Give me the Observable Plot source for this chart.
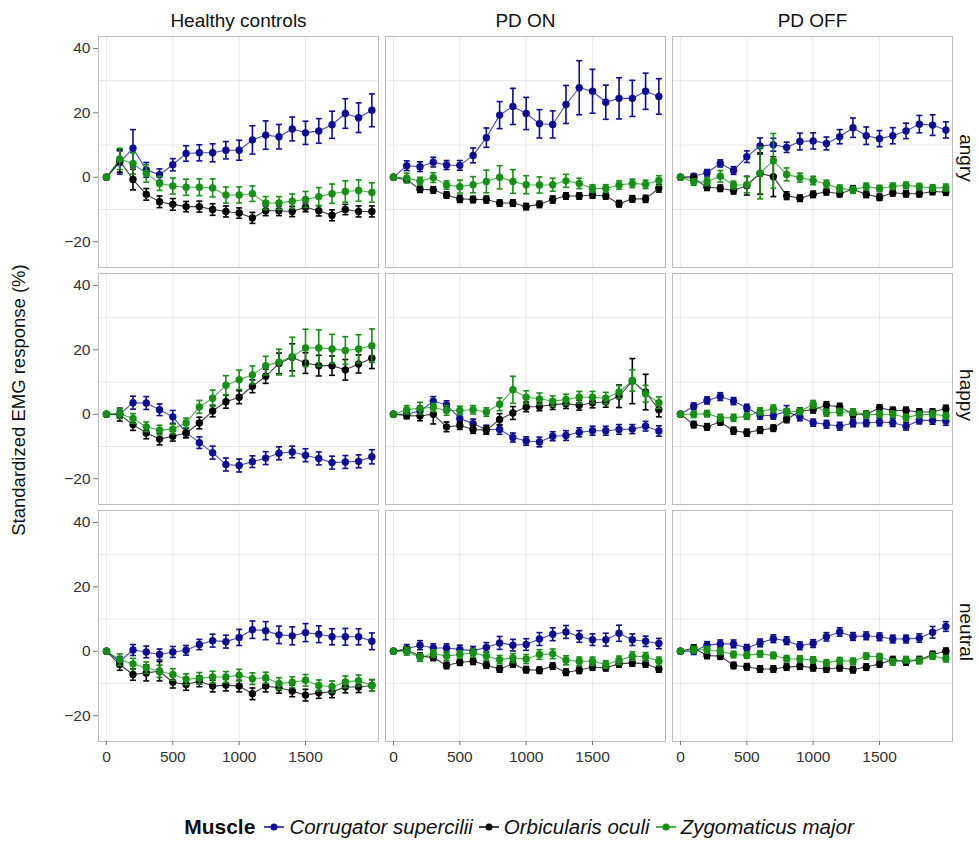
<!DOCTYPE html>
<html><head><meta charset="utf-8">
<script src="https://cdn.jsdelivr.net/npm/d3@7"></script>
<script src="https://cdn.jsdelivr.net/npm/@observablehq/plot@0.6"></script>
<style>
body{margin:0;background:#fff;font-family:"Liberation Sans",Arial,sans-serif;}
#wrap{position:relative;width:979px;}
#ytitle{position:absolute;left:19px;top:400px;transform:translate(-50%,-50%) rotate(-90deg);white-space:nowrap;font-size:18.5px;color:#111;}
#legend{display:flex;justify-content:center;align-items:center;margin-top:25px;padding-left:64px;font-size:20.5px;color:#111;}
#legend b{font-size:21px;margin-right:8px;}
#legend .key{display:flex;align-items:center;margin-right:5px;}
#legend svg{margin-right:4px;}
</style></head>
<body>
<div id="wrap"><div id="chart"></div><div id="ytitle">Standardized EMG response (%)</div><div id="legend"></div></div>
<script>
const times = [0,100,200,300,400,500,600,700,800,900,1000,1100,1200,1300,1400,1500,1600,1700,1800,1900,2000];
const groups = ["Healthy controls","PD ON","PD OFF"];
const emotions = ["angry","happy","neutral"];
const muscles = ["Corrugator supercilii","Orbicularis oculi","Zygomaticus major"];
const colors = ["#0c0c96","#000000","#149014"];
const xTicks = [0,500,1000,1500];
const yTicks = [-20,0,20,40];

// Healthy controls – angry
const hc_angry_cor    = [0,4.6,9.0,2.3,0.8,3.9,7.4,7.6,7.6,8.4,8.4,11.6,13.1,12.6,15.0,13.8,14.4,16.3,19.8,18.5,20.8];
const hc_angry_cor_se = [0,3.6,5.8,2.3,1.8,1.9,2.4,2.5,2.8,2.7,3.1,4.4,4.4,3.8,3.7,3.6,3.8,4.2,4.6,4.6,5.1];
const hc_angry_orb    = [0,5.1,-0.7,-5.3,-7.6,-8.4,-9.1,-9.1,-10.0,-10.6,-11.1,-12.6,-10.4,-10.4,-10.6,-9.3,-10.4,-11.8,-10.0,-10.6,-10.6];
const hc_angry_orb_se = [0,3.5,3.2,1.8,1.8,1.8,1.6,1.7,1.8,1.7,1.6,1.7,1.5,1.5,1.6,1.4,1.6,1.7,1.6,1.7,1.7];
const hc_angry_zyg    = [0,5.7,4.3,1.2,-1.9,-2.7,-3.1,-3.1,-3.3,-5.5,-5.5,-5.1,-8.0,-8.0,-7.4,-6.9,-6.0,-5.1,-4.4,-4.1,-4.7];
const hc_angry_zyg_se = [0,3.3,3.3,2.7,2.2,2.5,2.5,2.6,2.8,2.5,2.5,2.4,2.0,2.0,2.2,2.5,2.8,3.0,3.3,3.3,3.0];
// PD ON – angry
const on_angry_cor    = [0,3.6,3.3,4.7,3.8,3.7,6.8,12.3,19.3,22.0,19.8,16.6,16.4,22.6,27.8,26.7,23.3,24.5,24.5,26.7,25.1];
const on_angry_cor_se = [0,1.5,1.5,1.5,1.4,1.5,2.3,3.0,4.2,5.6,5.0,4.4,4.2,5.9,8.4,6.8,5.3,6.4,5.6,5.6,5.5];
const on_angry_orb    = [0,-0.8,-3.7,-3.9,-5.5,-6.7,-6.9,-6.9,-8.0,-8.0,-9.1,-8.4,-6.9,-5.8,-5.8,-5.5,-5.8,-8.2,-6.7,-6.7,-3.4];
const on_angry_orb_se = [0,0.8,1.0,1.0,1.0,1.1,1.0,1.1,1.0,1.0,1.0,1.0,1.1,1.0,1.0,1.0,1.0,1.0,1.0,1.1,1.2];
const on_angry_zyg    = [0,-0.2,-1.2,-0.1,-2.4,-2.9,-2.3,-1.3,0,-1.3,-2.3,-2.4,-2.3,-1.1,-1.9,-3.5,-3.5,-2.4,-1.9,-2.2,-1.0];
const on_angry_zyg_se = [0,1.5,1.2,1.5,1.3,2.0,2.5,3.5,3.6,3.7,2.8,2.5,2.0,2.0,1.6,1.2,1.2,1.3,1.3,1.3,1.5];
// PD OFF – angry
const off_angry_cor    = [0,0.3,1.4,4.3,2.1,6.4,9.7,10.1,9.3,11.1,11.3,10.5,12.6,15.4,12.9,12.0,12.9,14.4,16.5,16.2,14.7];
const off_angry_cor_se = [0,0.8,1.0,1.1,1.2,1.8,2.5,2.0,1.6,2.6,2.5,2.0,2.2,3.0,2.7,2.5,2.5,2.4,2.7,3.2,2.5];
const off_angry_orb    = [0,-0.3,-3.1,-3.4,-4.1,-2.6,1.2,0.2,-5.7,-6.5,-5.3,-4.5,-5.1,-3.7,-5.3,-6.2,-4.8,-5.1,-5.1,-4.4,-4.6];
const off_angry_orb_se = [0,0.9,1.0,1.0,1.1,2.9,6.4,6.2,1.2,1.0,1.0,1.0,1.0,1.1,1.0,1.0,1.0,1.0,1.0,1.0,1.0];
const off_angry_zyg    = [0,-1.5,-1.4,0.3,-2.4,-2.3,1.3,5.1,0.9,-0.1,-1.0,-2.1,-3.5,-3.9,-2.9,-3.5,-2.8,-2.5,-2.9,-3.3,-3.2];
const off_angry_zyg_se = [0,1.0,1.2,1.8,1.2,2.5,8.0,8.5,2.0,1.4,1.3,1.2,1.1,1.0,1.1,1.0,1.0,1.0,1.0,1.0,1.1];
// Healthy controls – happy
const hc_happy_cor    = [0,0,3.6,3.5,1.4,-0.8,-5.7,-8.8,-11.9,-15.6,-15.9,-14.7,-13.6,-12.1,-11.7,-12.7,-13.7,-15.0,-14.8,-14.6,-13.2];
const hc_happy_cor_se = [0,1.2,2.0,2.0,1.8,2.0,1.5,1.8,2.0,2.0,2.0,1.8,2.0,2.0,1.8,2.0,2.0,2.0,2.0,2.0,2.2];
const hc_happy_orb    = [0,-0.1,-3.2,-5.8,-7.7,-6.8,-5.8,-2.7,1.0,3.9,5.3,8.7,11.8,15.8,17.7,15.9,15.1,15.1,13.8,15.6,17.4];
const hc_happy_orb_se = [0,2.0,1.8,1.8,1.8,1.5,1.5,1.8,1.8,2.0,2.0,2.0,2.2,3.2,4.2,3.2,3.2,3.0,3.2,2.8,3.2];
const hc_happy_zyg    = [0,0.2,-1.3,-3.9,-4.9,-4.6,-2.7,2.3,5.0,9.0,10.7,12.2,15.1,16.2,17.9,20.6,20.6,20.3,19.8,20.3,21.3];
const hc_happy_zyg_se = [0,1.5,1.5,1.5,1.5,1.5,1.5,2.0,2.5,3.0,3.0,2.8,2.9,4.0,6.0,5.8,5.6,4.5,4.3,4.4,5.2];
// PD ON – happy
const on_happy_cor    = [0,0,1.0,4.1,2.9,-1.3,-2.9,-4.7,-4.7,-7.2,-8.3,-8.6,-6.8,-6.6,-5.6,-5.1,-5.1,-4.7,-4.6,-3.7,-5.2];
const on_happy_cor_se = [0,1.2,1.3,1.4,1.3,1.3,1.4,1.3,1.5,1.4,1.3,1.5,1.4,1.5,1.4,1.4,1.4,1.5,1.4,1.5,1.6];
const on_happy_orb    = [0,-0.4,-0.5,0,-3.9,-3.5,-4.7,-4.9,-1.6,0.4,2.3,2.4,3.0,3.3,2.8,3.6,3.8,5.6,10.3,6.9,1.4];
const on_happy_orb_se = [0,1.0,1.5,3.0,1.5,1.2,1.2,1.3,1.8,2.0,1.5,1.3,1.5,1.5,1.5,1.6,1.6,3.5,7.0,5.5,2.2];
const on_happy_zyg    = [0,1.4,1.9,2.1,1.2,1.2,1.4,0.7,3.1,7.6,5.3,4.8,4.1,4.6,5.3,5.3,5.0,6.9,10.5,6.4,3.6];
const on_happy_zyg_se = [0,1.3,1.8,1.3,1.5,1.3,1.3,1.3,2.0,4.2,2.0,1.8,1.6,1.6,1.8,1.8,1.8,2.0,3.3,2.6,1.8];
// PD OFF – happy
const off_happy_cor    = [0,2.5,4.3,5.5,4.1,2.0,-0.3,-0.4,0.9,-0.8,-2.6,-3.1,-3.7,-2.7,-2.7,-2.4,-2.6,-3.7,-1.9,-1.9,-2.1];
const off_happy_cor_se = [0,1.0,1.1,1.2,1.1,1.1,1.2,1.1,1.8,1.2,1.1,1.2,1.2,1.2,1.1,1.2,1.2,1.2,1.1,1.2,1.3];
const off_happy_orb    = [0,-3.2,-3.9,-2.4,-5.1,-5.7,-4.9,-4.3,-1.6,1.0,1.4,2.8,2.3,0,0,2.0,1.2,1.2,0.7,0.7,1.7];
const off_happy_orb_se = [0,1.0,1.0,1.0,1.1,1.1,1.0,1.0,1.0,1.0,1.0,1.1,1.1,1.0,1.0,1.0,1.0,1.0,1.0,1.0,1.1];
const off_happy_zyg    = [0,0,0.2,-1.1,-1.1,-0.6,0.9,1.7,0.7,0.9,3.1,0.5,0.7,0.7,-0.1,0,0,-1.0,-0.1,0,-0.5];
const off_happy_zyg_se = [0,1.0,1.0,1.1,1.1,1.0,1.1,1.2,1.1,1.0,1.2,1.1,1.1,1.0,1.0,1.0,1.0,1.0,1.0,1.0,1.0];
// Healthy controls – neutral
const hc_neutral_cor    = [0,-3.1,0.4,-0.2,-1.0,-0.2,0.3,2.1,3.3,3.0,4.3,6.7,6.4,5.1,4.8,5.8,5.3,4.5,4.5,4.5,3.1];
const hc_neutral_cor_se = [0,1.5,1.7,1.8,1.7,1.7,1.5,1.6,2.0,2.0,2.5,2.7,2.8,2.7,2.8,2.8,2.6,2.5,2.6,2.5,2.6];
const hc_neutral_orb    = [0,-4.1,-7.2,-6.7,-6.2,-9.6,-10.3,-9.3,-10.8,-10.5,-10.8,-13.2,-10.8,-11.3,-12.3,-13.6,-12.9,-12.6,-11.1,-11.1,-10.6];
const hc_neutral_orb_se = [0,1.8,1.8,2.5,3.0,1.8,1.8,1.7,1.8,1.8,1.8,1.8,1.8,1.7,1.8,1.8,1.7,1.8,1.8,1.7,1.8];
const hc_neutral_zyg    = [0,-2.6,-3.9,-5.1,-6.2,-7.2,-8.7,-8.4,-8.0,-8.0,-7.4,-8.5,-8.2,-10.0,-9.6,-9.0,-10.6,-11.0,-9.5,-9.1,-10.6];
const hc_neutral_zyg_se = [0,1.8,1.7,1.8,1.9,1.8,1.7,1.8,1.8,1.7,1.8,1.8,1.7,1.8,1.7,1.8,1.7,1.8,1.8,1.7,1.8];
// PD ON – neutral
const on_neutral_cor    = [0,0.8,1.9,1.0,1.0,0.6,0.2,1.2,2.6,1.9,2.1,3.8,5.3,6.0,4.6,3.6,3.6,5.6,3.6,3.1,2.4];
const on_neutral_cor_se = [0,1.3,1.4,1.3,1.3,1.3,1.3,1.5,2.0,1.8,1.8,2.0,2.0,2.0,1.8,1.8,2.0,2.5,1.8,1.6,1.6];
const on_neutral_orb    = [0,0.4,-1.5,-1.9,-4.4,-3.4,-3.1,-4.3,-5.5,-3.9,-5.7,-5.9,-4.6,-6.5,-5.9,-4.9,-5.1,-3.9,-3.6,-3.9,-5.5];
const on_neutral_orb_se = [0,1.0,1.0,1.0,1.0,1.0,1.0,1.0,1.0,1.0,1.0,1.0,1.0,1.0,1.0,1.0,1.0,1.0,1.0,1.0,1.0];
const on_neutral_zyg    = [0,0,-1.9,-0.7,-1.5,-1.0,-0.5,-1.5,-2.6,-2.1,-2.4,-1.0,-0.8,-2.8,-3.1,-3.1,-4.1,-2.8,-1.5,-1.7,-3.1];
const on_neutral_zyg_se = [0,1.2,1.2,1.2,1.3,1.2,1.3,1.3,1.3,1.4,1.4,1.5,1.5,1.4,1.3,1.3,1.2,1.3,1.3,1.3,1.3];
// PD OFF – neutral
const off_neutral_cor    = [0,0,1.9,2.3,2.3,1.0,2.6,3.9,3.3,1.7,2.4,4.5,6.0,4.6,4.8,4.5,3.8,3.8,4.1,5.9,7.7];
const off_neutral_cor_se = [0,1.0,1.1,1.2,1.2,1.1,1.2,1.2,1.2,1.2,1.2,1.3,1.3,1.2,1.2,1.2,1.2,1.2,1.3,1.8,1.5];
const off_neutral_orb    = [0,1.0,-1.3,-1.5,-4.4,-4.8,-5.5,-5.5,-4.9,-4.6,-5.1,-5.5,-5.1,-5.7,-4.9,-3.9,-2.6,-3.3,-2.6,-1.0,0];
const off_neutral_orb_se = [0,1.0,1.0,1.0,1.0,1.0,1.0,1.0,1.0,1.0,1.0,1.0,1.0,1.0,1.0,1.0,1.0,1.0,1.0,1.0,1.0];
const off_neutral_zyg    = [0,0.5,0.5,0,-1.0,-1.2,-0.8,-1.3,-2.3,-2.4,-2.7,-3.6,-2.9,-3.1,-1.5,-1.7,-3.3,-2.6,-2.9,-1.5,-2.3];
const off_neutral_zyg_se = [0,1.0,1.0,1.0,1.0,1.0,1.0,1.0,1.0,1.0,1.0,1.0,1.0,1.0,1.0,1.0,1.0,1.0,1.0,1.0,1.0];

const table = {
  "Healthy controls": {
    angry:   [[hc_angry_cor,hc_angry_cor_se],[hc_angry_orb,hc_angry_orb_se],[hc_angry_zyg,hc_angry_zyg_se]],
    happy:   [[hc_happy_cor,hc_happy_cor_se],[hc_happy_orb,hc_happy_orb_se],[hc_happy_zyg,hc_happy_zyg_se]],
    neutral: [[hc_neutral_cor,hc_neutral_cor_se],[hc_neutral_orb,hc_neutral_orb_se],[hc_neutral_zyg,hc_neutral_zyg_se]]
  },
  "PD ON": {
    angry:   [[on_angry_cor,on_angry_cor_se],[on_angry_orb,on_angry_orb_se],[on_angry_zyg,on_angry_zyg_se]],
    happy:   [[on_happy_cor,on_happy_cor_se],[on_happy_orb,on_happy_orb_se],[on_happy_zyg,on_happy_zyg_se]],
    neutral: [[on_neutral_cor,on_neutral_cor_se],[on_neutral_orb,on_neutral_orb_se],[on_neutral_zyg,on_neutral_zyg_se]]
  },
  "PD OFF": {
    angry:   [[off_angry_cor,off_angry_cor_se],[off_angry_orb,off_angry_orb_se],[off_angry_zyg,off_angry_zyg_se]],
    happy:   [[off_happy_cor,off_happy_cor_se],[off_happy_orb,off_happy_orb_se],[off_happy_zyg,off_happy_zyg_se]],
    neutral: [[off_neutral_cor,off_neutral_cor_se],[off_neutral_orb,off_neutral_orb_se],[off_neutral_zyg,off_neutral_zyg_se]]
  }
};

const rowsByMuscle = muscles.map(() => []);
for (const g of groups) for (const e of emotions) muscles.forEach((m, mi) => {
  const [vals, ses] = table[g][e][mi];
  times.forEach((t, i) => rowsByMuscle[mi].push({group: g, emotion: e, muscle: m, t, v: vals[i], lo: vals[i] - ses[i], hi: vals[i] + ses[i], se: ses[i]}));
});

const hline = {draw(context, size) { const w = Math.sqrt(size / Math.PI); context.moveTo(-w, 0); context.lineTo(w, 0); }};

const muscleMarks = rowsByMuscle.flatMap((rows, mi) => {
  const withErr = rows.filter(d => d.se > 0);
  const f = {fx: "group", fy: "emotion"};
  return [
    Plot.ruleX(withErr, {...f, x: "t", y1: "lo", y2: "hi", stroke: "muscle", strokeWidth: 1.6}),
    Plot.dot(withErr, {...f, x: "t", y: "lo", symbol: hline, r: 3, stroke: "muscle", strokeWidth: 1.6}),
    Plot.dot(withErr, {...f, x: "t", y: "hi", symbol: hline, r: 3, stroke: "muscle", strokeWidth: 1.6}),
    Plot.line(rows, {...f, x: "t", y: "v", stroke: "muscle", strokeWidth: 1.1, strokeOpacity: 0.75}),
    Plot.dot(rows, {...f, x: "t", y: "v", fill: "muscle", r: 3.7})
  ];
});

const chart = Plot.plot({
  width: 979, height: 790,
  marginLeft: 98, marginRight: 27, marginTop: 35, marginBottom: 47.6,
  style: {fontFamily: "Liberation Sans, Arial, sans-serif", fontSize: "14px", color: "#333", background: "#fff"},
  x: {domain: [-60, 2050], label: null},
  y: {domain: [-28, 43.7], label: null},
  fx: {domain: groups, padding: 0.025, label: null},
  fy: {domain: emotions, padding: 0.027, label: null, axis: null},
  color: {domain: muscles, range: colors},
  marks: [
    Plot.gridX({ticks: xTicks, stroke: "#e8e8e8", strokeOpacity: 1}),
    Plot.gridY({ticks: [-10, 10, 30], stroke: "#e8e8e8", strokeOpacity: 1}),
    Plot.frame({stroke: "#bdbdbd"}),
    Plot.axisX({ticks: xTicks, tickFormat: d => String(d), tickSize: 4, tickPadding: 5, stroke: "#777", fill: "#333", fontSize: 15.5, label: null}),
    Plot.axisY({ticks: yTicks, tickSize: 5, tickPadding: 3, stroke: "#777", fill: "#333", fontSize: 15.5, label: null}),
    Plot.axisFx({anchor: "top", tickSize: 0, tickPadding: 10, fontSize: 19, fill: "#111", label: null}),
    Plot.text(emotions, {fy: d => d, fx: () => "PD OFF", text: d => d, frameAnchor: "right", textAnchor: "middle", rotate: 90, dx: 14, dy: 6, fontSize: 19, fill: "#111"}),
    ...muscleMarks
  ]
});
document.getElementById("chart").append(chart);

const legend = document.getElementById("legend");
const title = document.createElement("b");
title.textContent = "Muscle";
legend.append(title);
muscles.forEach((m, i) => {
  const key = document.createElement("span");
  key.className = "key";
  key.innerHTML = `<svg width="22" height="12"><line x1="1" x2="21" y1="6" y2="6" stroke="${colors[i]}" stroke-width="1.5"/><circle cx="11" cy="6" r="3.5" fill="${colors[i]}"/></svg><i></i>`;
  key.querySelector("i").textContent = m;
  legend.append(key);
});
</script>
</body></html>
